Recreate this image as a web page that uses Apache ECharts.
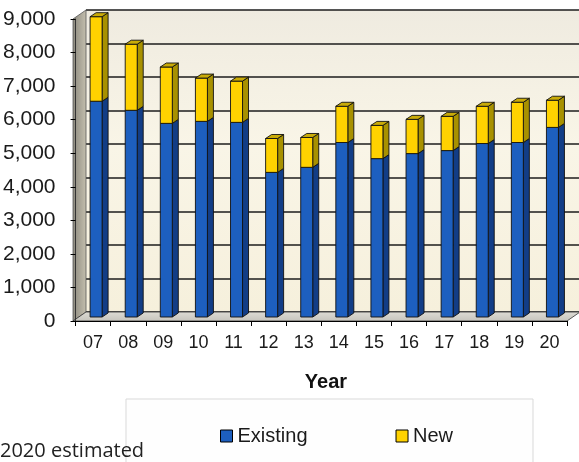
<!DOCTYPE html>
<html>
<head>
<meta charset="utf-8">
<script src="https://cdn.jsdelivr.net/npm/echarts@6/dist/echarts.min.js"></script>
<style>html,body{margin:0;padding:0;background:#fff;}#c{width:579px;height:462px;}</style>
</head>
<body>
<div id="c"></div>
<script>
// ---- data ----
const categories = ['07','08','09','10','11','12','13','14','15','16','17','18','19','20'];
const existing = [6430, 6160, 5770, 5830, 5800, 4310, 4460, 5200, 4720, 4870, 4960, 5170, 5200, 5650];
const newVals  = [2520, 1970, 1680, 1290, 1230, 1010, 890, 1080, 990, 1020, 1020, 1110, 1200, 810];
const yTicks = [0, 1000, 2000, 3000, 4000, 5000, 6000, 7000, 8000, 9000];
const seriesNames = ['Existing', 'New'];

// ---- layout ----
const W = 579, H = 462;
const G = {left: 73, right: 12, top: 19, bottom: 141};   // front plane
const DEPTH = {dx: 13, dy: 9};                              // wall depth offset
const BAR = {w: 12, shiftX: 3, shiftY: 4, dx: 6, dy: 4};

const colors = {
  Existing: {front: '#1d5fbf', side: '#123d86', cap: '#2a62b0'},
  New: {front: '#ffd200', side: '#a89100', cap: '#c9ab08'}
};

function makeRender(name, isTop) {
  const c = colors[name];
  return function (params, api) {
    const i = api.value(0);
    const lo = api.coord([i, api.value(1)]);
    const hi = api.coord([i, api.value(2)]);
    const x0 = lo[0] + BAR.shiftX - BAR.w / 2, x1 = x0 + BAR.w;
    const yb = lo[1] - BAR.shiftY, yt = hi[1] - BAR.shiftY;
    const st = {stroke: '#111', lineWidth: 0.9};
    const children = [
      {type: 'polygon', shape: {points: [[x1, yb], [x1 + BAR.dx, yb - BAR.dy], [x1 + BAR.dx, yt - BAR.dy], [x1, yt]]},
       style: Object.assign({fill: c.side}, st)},
      {type: 'rect', shape: {x: x0, y: yt, width: BAR.w, height: yb - yt}, style: Object.assign({fill: c.front}, st)}
    ];
    if (isTop) {
      children.push({type: 'polygon', shape: {points: [[x0, yt], [x0 + BAR.dx, yt - BAR.dy], [x1 + BAR.dx, yt - BAR.dy], [x1, yt]]},
        style: Object.assign({fill: c.cap}, st)});
    }
    return {type: 'group', children: children};
  };
}

const chart = echarts.init(document.getElementById('c'), null, {renderer: 'canvas'});

const frontL = G.left, frontR = W - G.right, frontT = G.top, frontB = H - G.bottom;

chart.setOption({
  animation: false,
  backgroundColor: '#ffffff',
  grid: [
    {left: G.left, right: G.right, top: G.top, bottom: G.bottom},
    {left: G.left + DEPTH.dx, right: G.right - DEPTH.dx, top: G.top - DEPTH.dy, bottom: G.bottom + DEPTH.dy,
     show: true, borderWidth: 0, z: 0,
     backgroundColor: {type: 'linear', x: 0, y: 0, x2: 0, y2: 1, colorStops: [
       {offset: 0, color: '#efebe0'}, {offset: 0.45, color: '#f9f5e7'}, {offset: 1, color: '#f6f0dc'}]}}
  ],
  xAxis: [
    {type: 'category', gridIndex: 0, data: categories, z: 5,
     axisLine: {show: true, lineStyle: {color: '#000', width: 1}},
     axisTick: {show: true, length: 5, lineStyle: {color: '#000'}},
     axisLabel: {fontSize: 18, color: '#1a1a1a', fontFamily: 'Liberation Sans', margin: 13},
     splitLine: {show: false}},
    {type: 'category', gridIndex: 1, data: categories, show: false}
  ],
  yAxis: [
    {type: 'value', gridIndex: 0, min: yTicks[0], max: yTicks[yTicks.length - 1], interval: 1000, z: 5,
     axisLine: {show: true, lineStyle: {color: '#333', width: 1}},
     axisTick: {show: true, length: 5, lineStyle: {color: '#000'}},
     axisLabel: {fontSize: 21, color: '#1a1a1a', fontFamily: 'Liberation Sans', margin: 20,
                 formatter: v => v.toLocaleString('en-US')},
     splitLine: {show: false}},
    {type: 'value', gridIndex: 1, min: yTicks[0], max: yTicks[yTicks.length - 1], interval: 1000,
     axisLine: {show: false}, axisTick: {show: false}, axisLabel: {show: false},
     splitLine: {show: true, lineStyle: {color: '#1c1c1c', width: 1.5}}}
  ],
  legend: {
    left: 215, top: 421, itemWidth: 12, itemHeight: 12, itemGap: 88, icon: 'rect',
    itemStyle: {borderColor: '#000', borderWidth: 1},
    textStyle: {fontSize: 20, color: '#1a1a1a', fontFamily: 'Liberation Sans'},
    data: seriesNames
  },
  graphic: [
    {type: 'rect', z: -1, shape: {x: 126, y: 399, width: 407, height: 80},
     style: {fill: '#fefefe', stroke: '#d9d9d9', lineWidth: 1}},
    {type: 'polygon', z: 1, shape: {points: [[frontL, frontT], [frontL + DEPTH.dx, frontT - DEPTH.dy],
        [frontL + DEPTH.dx, frontB - DEPTH.dy], [frontL, frontB]]},
     style: {fill: {type: 'linear', x: 0, y: 0, x2: 1, y2: 0, colorStops: [
       {offset: 0, color: '#8c897e'}, {offset: 1, color: '#c4bfae'}]}, stroke: '#555', lineWidth: 0.8}},
    {type: 'polygon', z: 1, shape: {points: [[frontL, frontB], [frontL + DEPTH.dx, frontB - DEPTH.dy],
        [frontR + DEPTH.dx, frontB - DEPTH.dy], [frontR, frontB]]},
     style: {fill: {type: 'linear', x: 0, y: 0, x2: 0, y2: 1, colorStops: [
       {offset: 0, color: '#dddbd4'}, {offset: 1, color: '#c6c4bc'}]}, stroke: '#333', lineWidth: 0.8}},
    {type: 'text', z: 5, style: {text: 'Year', x: 326, y: 382, textAlign: 'center', textVerticalAlign: 'middle',
      font: 'bold 20px "Liberation Sans"', fill: '#111'}},
    {type: 'text', z: 5, style: {text: '2020 estimated', x: 0, y: 451, textAlign: 'left', textVerticalAlign: 'middle',
      font: '20px "Open Sans"', fill: '#222'}}
  ],
  series: [
    {name: seriesNames[0], type: 'custom', xAxisIndex: 0, yAxisIndex: 0, z: 3,
     itemStyle: {color: colors.Existing.front},
     renderItem: makeRender('Existing', false),
     encode: {x: 0, y: [1, 2]},
     data: existing.map((v, i) => [i, 0, v])},
    {name: seriesNames[1], type: 'custom', xAxisIndex: 0, yAxisIndex: 0, z: 3,
     itemStyle: {color: colors.New.front},
     renderItem: makeRender('New', true),
     encode: {x: 0, y: [1, 2]},
     data: newVals.map((v, i) => [i, existing[i], existing[i] + v])}
  ]
});
</script>
</body>
</html>
